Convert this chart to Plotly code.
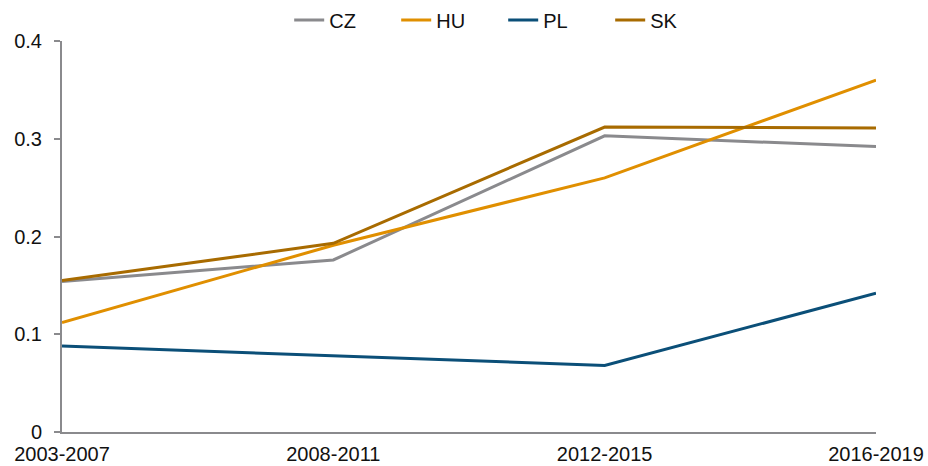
import plotly.graph_objects as go

periods = ["2003-2007", "2008-2011", "2012-2015", "2016-2019"]
cz = [0.154, 0.176, 0.303, 0.292]
hu = [0.112, 0.191, 0.260, 0.360]
pl = [0.088, 0.078, 0.068, 0.142]
sk = [0.155, 0.193, 0.312, 0.311]
yticks = [0, 0.1, 0.2, 0.3, 0.4]
ytick_labels = ["0", "0.1", "0.2", "0.3", "0.4"]

series = [("CZ", cz, "#8a8a8d"), ("HU", hu, "#e08f00"), ("PL", pl, "#0b4f78"), ("SK", sk, "#a86b00")]

fig = go.Figure()
for name, vals, col in series:
    fig.add_trace(go.Scatter(x=periods, y=vals, name=name, mode="lines",
                             line=dict(color=col, width=3)))

fig.update_layout(
    width=928, height=466,
    margin=dict(l=62, r=52, t=41, b=34, autoexpand=False),
    paper_bgcolor="white", plot_bgcolor="white",
    font=dict(family="Liberation Sans, Arial, sans-serif", size=20, color="#111"),
    showlegend=True,
    legend=dict(orientation="h", x=0.542, xanchor="center", y=1.054, yanchor="middle",
                font=dict(size=20), tracegroupgap=0, bgcolor="rgba(0,0,0,0)",
                entrywidth=62, entrywidthmode="pixels"),
)
fig.update_xaxes(type="category", range=[0, 3], showgrid=False, showline=True,
                 linecolor="#8a8a8d", linewidth=2, ticks="", tickfont=dict(size=20),
                 zeroline=False, automargin=False, ticklabelstandoff=3)
fig.update_yaxes(range=[0, 0.4], tickvals=yticks, ticktext=ytick_labels,
                 showgrid=False, showline=True, linecolor="#8a8a8d", linewidth=2,
                 ticks="outside", ticklen=6, tickcolor="#8a8a8d", tickwidth=2,
                 tickfont=dict(size=20), zeroline=False, automargin=False,
                 ticklabelstandoff=8)

fig.write_html("out.html", config={"displayModeBar": False},
               post_script="document.body.style.margin='0';")
